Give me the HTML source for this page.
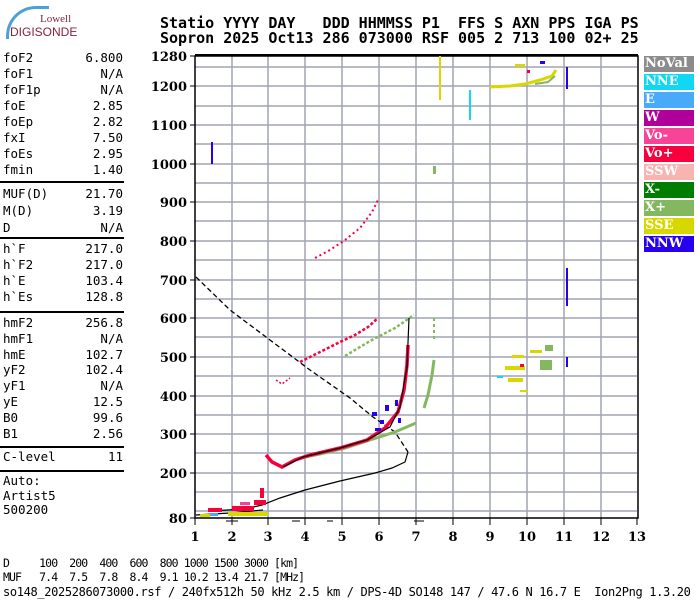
<!DOCTYPE html>
<html><head><meta charset="utf-8"><style>
body{margin:0;background:#fff;width:700px;height:600px;overflow:hidden;position:relative;font-family:"DejaVu Sans Mono","Liberation Mono",monospace}
.t{position:absolute;white-space:pre;font-size:11.5px;color:#000;letter-spacing:-0.9px}
.hd{position:absolute;white-space:pre;font-family:"DejaVu Sans Mono",monospace;font-weight:bold;font-size:15px;left:160px}
.lp{position:absolute;left:3px;width:120px;font-size:12.5px;line-height:16px}
.lp div{display:flex;justify-content:space-between;white-space:pre}
.hr{position:absolute;left:0;width:124px;height:2px;background:#000}
.lg{position:absolute;left:644px;width:50px;height:16px;font-family:"DejaVu Serif","Liberation Serif",serif;font-weight:bold;font-size:13px;color:#fff;line-height:16px;padding-left:1px;box-sizing:border-box}
</style></head><body>
<div style="position:absolute;left:6px;top:6px;width:40px;height:30px;border-top:3px solid #4aa3d8;border-left:3px solid #4aa3d8;border-radius:30px 0 0 0"></div>
<div style="position:absolute;left:40px;top:13px;font-family:'Liberation Serif',serif;font-size:11px;color:#7a2a3a">Lowell</div>
<div style="position:absolute;left:10px;top:25px;font-family:'Liberation Sans',sans-serif;font-size:12px;color:#8a1f3a">DIGISONDE</div>
<div class="hd" style="top:14px">Statio YYYY DAY   DDD HHMMSS P1  FFS S AXN PPS IGA PS</div>
<div class="hd" style="top:29px">Sopron 2025 Oct13 286 073000 RSF 005 2 713 100 02+ 25</div>
<div class="lp" style="top:50px">
<div><span>foF2</span><span>6.800</span></div><div><span>foF1</span><span>N/A</span></div><div><span>foF1p</span><span>N/A</span></div><div><span>foE</span><span>2.85</span></div><div><span>foEp</span><span>2.82</span></div><div><span>fxI</span><span>7.50</span></div><div><span>foEs</span><span>2.95</span></div><div><span>fmin</span><span>1.40</span></div></div>
<div class="hr" style="top:181px"></div>
<div class="lp" style="top:185px;line-height:17px"><div><span>MUF(D)</span><span>21.70</span></div><div><span>M(D)</span><span>3.19</span></div><div><span>D</span><span>N/A</span></div></div>
<div class="hr" style="top:237px"></div>
<div class="lp" style="top:241px"><div><span>h`F</span><span>217.0</span></div><div><span>h`F2</span><span>217.0</span></div><div><span>h`E</span><span>103.4</span></div><div><span>h`Es</span><span>128.8</span></div></div>
<div class="hr" style="top:311px"></div>
<div class="lp" style="top:315px;line-height:15.8px"><div><span>hmF2</span><span>256.8</span></div><div><span>hmF1</span><span>N/A</span></div><div><span>hmE</span><span>102.7</span></div><div><span>yF2</span><span>102.4</span></div><div><span>yF1</span><span>N/A</span></div><div><span>yE</span><span>12.5</span></div><div><span>B0</span><span>99.6</span></div><div><span>B1</span><span>2.56</span></div></div>
<div class="hr" style="top:446px"></div>
<div class="lp" style="top:449px"><div><span>C-level</span><span>11</span></div></div>
<div class="hr" style="top:470px"></div>
<div class="lp" style="top:474px;line-height:14.5px"><div><span>Auto:</span></div><div><span>Artist5</span></div><div><span>500200</span></div></div>

<div class="lg" style="top:56px;background:#8c8c8c">NoVal</div>
<div class="lg" style="top:74px;background:#10d8f4">NNE</div>
<div class="lg" style="top:92px;background:#48aaf8">E</div>
<div class="lg" style="top:110px;background:#b0009a">W</div>
<div class="lg" style="top:128px;background:#f84498">Vo-</div>
<div class="lg" style="top:146px;background:#f8003c">Vo+</div>
<div class="lg" style="top:164px;background:#f8b4b0">SSW</div>
<div class="lg" style="top:182px;background:#007c00">X-</div>
<div class="lg" style="top:200px;background:#84b860">X+</div>
<div class="lg" style="top:218px;background:#d8d800">SSE</div>
<div class="lg" style="top:236px;background:#2800f0">NNW</div>

<svg width="700" height="600" style="position:absolute;left:0;top:0" xmlns="http://www.w3.org/2000/svg">
<g stroke="#a0a4b4" stroke-width="1.5">
<line x1="232" y1="56" x2="232" y2="518"/><line x1="268" y1="56" x2="268" y2="518"/><line x1="305" y1="56" x2="305" y2="518"/><line x1="342" y1="56" x2="342" y2="518"/><line x1="379" y1="56" x2="379" y2="518"/><line x1="416" y1="56" x2="416" y2="518"/><line x1="453" y1="56" x2="453" y2="518"/><line x1="490" y1="56" x2="490" y2="518"/><line x1="527" y1="56" x2="527" y2="518"/><line x1="564" y1="56" x2="564" y2="518"/><line x1="601" y1="56" x2="601" y2="518"/>
<line x1="195" y1="67" x2="637" y2="67"/><line x1="195" y1="86" x2="637" y2="86"/><line x1="195" y1="106" x2="637" y2="106"/><line x1="195" y1="125" x2="637" y2="125"/><line x1="195" y1="144" x2="637" y2="144"/><line x1="195" y1="164" x2="637" y2="164"/><line x1="195" y1="183" x2="637" y2="183"/><line x1="195" y1="202" x2="637" y2="202"/><line x1="195" y1="221" x2="637" y2="221"/><line x1="195" y1="241" x2="637" y2="241"/><line x1="195" y1="260" x2="637" y2="260"/><line x1="195" y1="280" x2="637" y2="280"/><line x1="195" y1="299" x2="637" y2="299"/><line x1="195" y1="318" x2="637" y2="318"/><line x1="195" y1="337" x2="637" y2="337"/><line x1="195" y1="357" x2="637" y2="357"/><line x1="195" y1="376" x2="637" y2="376"/><line x1="195" y1="396" x2="637" y2="396"/><line x1="195" y1="415" x2="637" y2="415"/><line x1="195" y1="434" x2="637" y2="434"/><line x1="195" y1="453" x2="637" y2="453"/><line x1="195" y1="473" x2="637" y2="473"/><line x1="195" y1="492" x2="637" y2="492"/><line x1="195" y1="511" x2="637" y2="511"/>
</g>
<rect x="195" y="56" width="443" height="462" fill="none" stroke="#000" stroke-width="1.5"/>
<line x1="195" y1="55" x2="638" y2="55" stroke="#000" stroke-width="2"/>
<g stroke="#000" stroke-width="1">
<line x1="190" y1="56" x2="195" y2="56"/><line x1="190" y1="86" x2="195" y2="86"/><line x1="190" y1="125" x2="195" y2="125"/><line x1="190" y1="164" x2="195" y2="164"/><line x1="190" y1="202" x2="195" y2="202"/><line x1="190" y1="241" x2="195" y2="241"/><line x1="190" y1="280" x2="195" y2="280"/><line x1="190" y1="318" x2="195" y2="318"/><line x1="190" y1="357" x2="195" y2="357"/><line x1="190" y1="396" x2="195" y2="396"/><line x1="190" y1="434" x2="195" y2="434"/><line x1="190" y1="473" x2="195" y2="473"/><line x1="190" y1="518" x2="195" y2="518"/>
<line x1="195" y1="518" x2="195" y2="525"/><line x1="232" y1="518" x2="232" y2="525"/><line x1="268" y1="518" x2="268" y2="525"/><line x1="305" y1="518" x2="305" y2="525"/><line x1="342" y1="518" x2="342" y2="525"/><line x1="379" y1="518" x2="379" y2="525"/><line x1="416" y1="518" x2="416" y2="525"/><line x1="453" y1="518" x2="453" y2="525"/><line x1="490" y1="518" x2="490" y2="525"/><line x1="527" y1="518" x2="527" y2="525"/><line x1="564" y1="518" x2="564" y2="525"/><line x1="601" y1="518" x2="601" y2="525"/><line x1="637" y1="518" x2="637" y2="525"/>
<line x1="226" y1="521" x2="238" y2="521"/><line x1="292" y1="521" x2="300" y2="521"/><line x1="327" y1="521" x2="333" y2="521"/><line x1="414" y1="521" x2="424" y2="521"/>
</g>
<g font-family="'DejaVu Serif','Liberation Serif',serif" font-weight="bold" font-size="13" text-anchor="end">
<text x="187" y="61">1280</text><text x="187" y="91">1200</text><text x="187" y="130">1100</text><text x="187" y="169">1000</text><text x="187" y="207">900</text><text x="187" y="246">800</text><text x="187" y="285">700</text><text x="187" y="323">600</text><text x="187" y="362">500</text><text x="187" y="401">400</text><text x="187" y="439">300</text><text x="187" y="478">200</text><text x="187" y="523">80</text>
</g>
<g font-family="'DejaVu Serif','Liberation Serif',serif" font-weight="bold" font-size="13" text-anchor="middle">
<text x="195" y="541">1</text><text x="232" y="541">2</text><text x="268" y="541">3</text><text x="305" y="541">4</text><text x="342" y="541">5</text><text x="379" y="541">6</text><text x="416" y="541">7</text><text x="453" y="541">8</text><text x="490" y="541">9</text><text x="527" y="541">10</text><text x="564" y="541">11</text><text x="601" y="541">12</text><text x="637" y="541">13</text>
</g>
<polyline points="196,277 230,310 270,340 310,370 350,398 373,417 395,432 408,452" fill="none" stroke="#000" stroke-width="1.3" stroke-dasharray="5,3"/>
<polyline points="408,452 405,462 392,468 375,473 340,481 305,490 280,498 262,505 245,509 210,511" fill="none" stroke="#000" stroke-width="1.2"/>
<polyline points="196,515 230,513 263,510" fill="none" stroke="#000" stroke-width="1.2"/>
<polyline points="300,458 320,454 345,448 370,440 395,432 416,423" fill="none" stroke="#84b860" stroke-width="3"/>
<polyline points="345,356 370,341 395,328 414,315" fill="none" stroke="#84b860" stroke-width="2.5" stroke-dasharray="3,2"/>
<polyline points="424,408 428,395 432,375 434,360" fill="none" stroke="#84b860" stroke-width="3"/>
<line x1="434" y1="318" x2="434" y2="340" stroke="#84b860" stroke-width="2" stroke-dasharray="3,3"/>
<polyline points="266,455 272,462 282,467 295,460 310,455 340,448 367,440 385,428 398,412 404,390 407,365 408,345" fill="none" stroke="#f8003c" stroke-width="3.5"/>
<polyline points="283,467 303,457 340,448 367,440 390,427 400,407 407,367 409,318" fill="none" stroke="#000" stroke-width="1.2"/>
<polyline points="300,362 320,352 340,342 355,335 368,327 378,318" fill="none" stroke="#f8003c" stroke-width="2.5" stroke-dasharray="3,2"/>
<polyline points="315,258 330,250 345,240 360,228 372,212 378,200" fill="none" stroke="#f8003c" stroke-width="2" stroke-dasharray="2,3"/>
<polyline points="276,380 282,384 290,378" fill="none" stroke="#f8003c" stroke-width="1.5" stroke-dasharray="2,2"/>
<g fill="#2800f0"><rect x="372" y="412" width="5" height="4"/><rect x="380" y="420" width="4" height="4"/><rect x="385" y="405" width="4" height="6"/><rect x="395" y="400" width="3" height="6"/><rect x="398" y="418" width="3" height="5"/><rect x="375" y="428" width="6" height="3"/><rect x="211" y="142" width="2" height="22"/><rect x="566" y="268" width="2" height="38"/><rect x="566" y="357" width="2" height="10"/><rect x="566" y="67" width="2" height="22"/><rect x="540" y="61" width="5" height="3"/></g>
<rect x="439" y="56" width="2" height="44" fill="#d8d800"/>
<rect x="469" y="90" width="2" height="30" fill="#10d8f4"/>
<polyline points="490,87 510,86 525,84 540,80 552,76 556,70" fill="none" stroke="#d8d800" stroke-width="3"/>
<polyline points="535,84 548,82 555,76" fill="none" stroke="#84b860" stroke-width="2"/>
<rect x="515" y="64" width="10" height="3" fill="#d8d800"/>
<rect x="527" y="70" width="3" height="3" fill="#f8003c"/>
<g fill="#d8d800"><rect x="505" y="366" width="20" height="4"/><rect x="508" y="378" width="15" height="4"/><rect x="512" y="355" width="12" height="3"/><rect x="520" y="390" width="8" height="2"/><rect x="530" y="350" width="12" height="3"/></g>
<g fill="#84b860"><rect x="540" y="360" width="12" height="10"/><rect x="545" y="345" width="8" height="6"/></g>
<rect x="520" y="364" width="4" height="3" fill="#f8003c"/>
<rect x="497" y="376" width="6" height="2" fill="#10d8f4"/>
<rect x="433" y="166" width="3" height="8" fill="#84b860"/>
<g fill="#f8003c"><rect x="208" y="508" width="14" height="4"/><rect x="232" y="506" width="22" height="5"/><rect x="254" y="500" width="12" height="5"/><rect x="260" y="488" width="4" height="10"/></g>
<g fill="#d8d800"><rect x="228" y="512" width="40" height="4"/><rect x="200" y="514" width="10" height="3"/></g>
<g fill="#48aaf8"><rect x="210" y="513" width="8" height="3"/></g>
<g fill="#f84498"><rect x="240" y="502" width="10" height="3"/></g>
</svg>
<div class="t" style="left:3px;top:556px">D     100  200  400  600  800 1000 1500 3000 [km]</div>
<div class="t" style="left:3px;top:570px">MUF   7.4  7.5  7.8  8.4  9.1 10.2 13.4 21.7 [MHz]</div>
<div class="t" style="left:3px;top:585px;font-size:12px;letter-spacing:-0.35px">so148_2025286073000.rsf / 240fx512h 50 kHz 2.5 km / DPS-4D SO148 147 / 47.6 N 16.7 E  Ion2Png 1.3.20</div>
</body></html>
